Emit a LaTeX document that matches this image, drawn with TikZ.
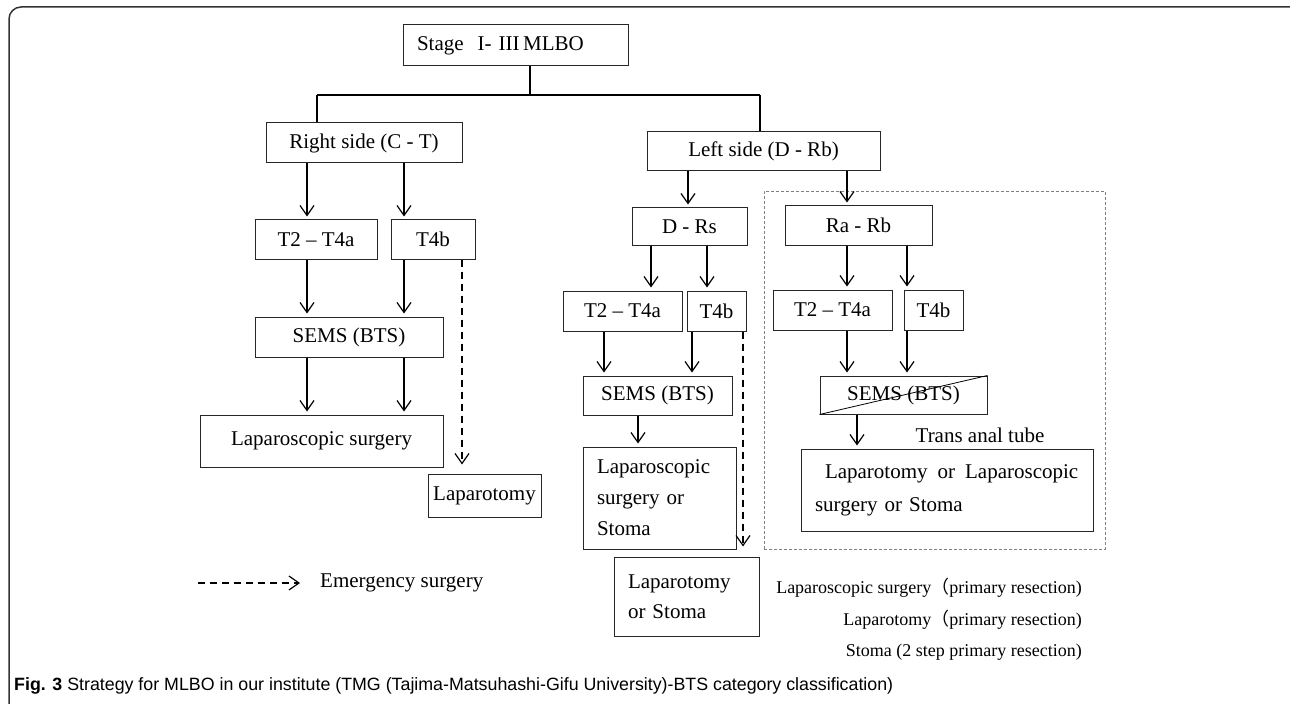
\documentclass[tikz,border=0pt]{standalone}
\usepackage{fontspec}
\setmainfont{Liberation Serif}
\newfontfamily\capfont{Liberation Sans}
\newfontfamily\cjk{Noto Sans CJK SC}
\usetikzlibrary{arrows.meta}

\tikzset{
  box/.style={draw=black!85, line width=1bp, inner sep=0pt,
    font=\fontsize{21bp}{31bp}\selectfont},
  flow/.style={-{Straight Barb[length=10bp,width=14bp]}, line width=1.2bp, shorten >=3bp},
  emerg/.style={flow, dash pattern=on 7bp off 5bp},
  trunk/.style={line width=2bp},
  note/.style={inner sep=0pt, font=\fontsize{18bp}{22bp}\selectfont},
}

\begin{document}
\begin{tikzpicture}[x=1bp, y=-1bp]
  \useasboundingbox (0,0) rectangle (1290,704);
  % frame
  \draw[line width=1.5bp, black!80, rounded corners=12bp] (9,715) -- (9,7) -- (1300,7);

  % columns of the arrows
  \coordinate (split) at (530,95);
  \coordinate (jr) at (317,95);
  \coordinate (jl) at (760,95);
  \coordinate (rc1) at (307,0);
  \coordinate (rc2) at (404,0);
  \coordinate (rd) at (462,0);
  \coordinate (lc1) at (688,0);
  \coordinate (lc2) at (847,0);
  \coordinate (mc1) at (651,0);
  \coordinate (mc2) at (707,0);
  \coordinate (mc3) at (604,0);
  \coordinate (mc4) at (692,0);
  \coordinate (mc5) at (638,0);
  \coordinate (md) at (743,0);
  \coordinate (qc1) at (847,0);
  \coordinate (qc2) at (907,0);
  \coordinate (qc3) at (857,0);

  % rectum zone
  \node [draw=gray, line width=0.8bp, dash pattern=on 3bp off 2bp, minimum width=341bp, minimum height=358bp] (zone) at (934.5,370) {};

  \node [box, minimum width=225bp, minimum height=41bp, text width=197bp, align=left] (stage) at (515.5,45.5) {Stage\ \ I- III\,MLBO};
  \node [box, minimum width=196bp, minimum height=40bp] (rside) at (364,143) {Right side (C - T)};
  \node [box, minimum width=233bp, minimum height=39bp] (lside) at (763.5,151.5) {Left side (D - Rb)};

  % right side
  \node [box, minimum width=122bp, minimum height=39bp] (r_t2) at (316,239.5) {T2 -- T4a};
  \node [box, minimum width=84bp, minimum height=39bp] (r_t4b) at (433,239.5) {T4b};
  \node [box, minimum width=188bp, minimum height=40bp] (r_sems) at (349,337) {SEMS (BTS)};
  \node [box, minimum width=243bp, minimum height=52bp] (r_lap) at (321.5,441) {Laparoscopic surgery};
  \node [box, minimum width=113bp, minimum height=43bp] (r_lapt) at (484.5,495.5) {Laparotomy};

  % left side, D - Rs
  \node [box, minimum width=115bp, minimum height=37bp] (m_drs) at (689.5,226.5) {D - Rs};
  \node [box, minimum width=119bp, minimum height=40bp] (m_t2) at (622.5,311) {T2 -- T4a};
  \node [box, minimum width=59bp, minimum height=40bp] (m_t4b) at (716.5,311) {T4b};
  \node [box, minimum width=149bp, minimum height=39bp] (m_sems) at (657.5,395.5) {SEMS (BTS)};
  \node [box, minimum width=153bp, minimum height=102bp, text width=125bp, align=left] (m_lap) at (659.5,498) {Laparoscopic\\surgery or\\Stoma};
  \node [box, minimum width=145bp, minimum height=79bp, text width=117bp, align=left, font=\fontsize{21bp}{30bp}\selectfont] (m_lapt) at (686.5,596.5) {Laparotomy\\or Stoma};

  % left side, Ra - Rb
  \node [box, minimum width=147bp, minimum height=39bp] (q_rarb) at (858.5,225.5) {Ra - Rb};
  \node [box, minimum width=119bp, minimum height=40bp] (q_t2) at (832.5,310) {T2 -- T4a};
  \node [box, minimum width=59bp, minimum height=40bp] (q_t4b) at (933.5,310) {T4b};
  \node [box, minimum width=167bp, minimum height=38bp] (q_sems) at (903.5,395) {SEMS (BTS)};
  \node [box, minimum width=292bp, minimum height=82bp, text width=264bp, align=left, font=\fontsize{21bp}{33bp}\selectfont] (q_lap) at (947,490) {\mbox{\hspace*{10bp}Laparotomy\hspace{10bp}or\hspace{10bp}Laparoscopic}\\surgery or Stoma};
  \node [inner sep=0pt, font=\fontsize{21bp}{25bp}\selectfont] (tube) at (980,435) {Trans anal tube};
  \draw[line width=0.8bp] (q_sems.south west) -- (q_sems.north east);

  % trunk
  \draw[trunk] (stage.south -| split) -- (split) (jr) -- (jl)
    (jr) -- (jr |- rside.north) (jl) -- (jl |- lside.north);

  % arrows
  \draw[flow] (rc1 |- rside.south) -- (rc1 |- r_t2.north);
  \draw[flow] (rc2 |- rside.south) -- (rc2 |- r_t4b.north);
  \draw[flow] (rc1 |- r_t2.south) -- (rc1 |- r_sems.north);
  \draw[flow] (rc2 |- r_t4b.south) -- (rc2 |- r_sems.north);
  \draw[flow] (rc1 |- r_sems.south) -- (rc1 |- r_lap.north);
  \draw[flow] (rc2 |- r_sems.south) -- (rc2 |- r_lap.north);
  \draw[emerg, shorten >=9bp] (rd |- r_t4b.south) -- (rd |- r_lapt.north);

  \draw[flow] (lc1 |- lside.south) -- (lc1 |- m_drs.north);
  \draw[flow] (lc2 |- lside.south) -- (lc2 |- q_rarb.north);
  \draw[flow] (mc1 |- m_drs.south) -- (mc1 |- m_t2.north);
  \draw[flow] (mc2 |- m_drs.south) -- (mc2 |- m_t4b.north);
  \draw[flow] (mc3 |- m_t2.south) -- (mc3 |- m_sems.north);
  \draw[flow] (mc4 |- m_t4b.south) -- (mc4 |- m_sems.north);
  \draw[flow] (mc5 |- m_sems.south) -- (mc5 |- m_lap.north);
  \draw[emerg, shorten >=10bp] (md |- m_t4b.south) -- (md |- m_lapt.north);

  \draw[flow] (qc1 |- q_rarb.south) -- (qc1 |- q_t2.north);
  \draw[flow] (qc2 |- q_rarb.south) -- (qc2 |- q_t4b.north);
  \draw[flow] (qc1 |- q_t2.south) -- (qc1 |- q_sems.north);
  \draw[flow] (qc2 |- q_t4b.south) -- (qc2 |- q_sems.north);
  \draw[flow] (qc3 |- q_sems.south) -- (qc3 |- q_lap.north);

  % legend
  \coordinate (lg) at (198,583);
  \node [inner sep=0pt, anchor=west, font=\fontsize{21bp}{25bp}\selectfont] (lgtext) at (320,583) {Emergency surgery};
  \draw[emerg, shorten >=20bp] (lg) -- (lgtext.west);
  \node [note, anchor=east] (n1) at (1082,588) {Laparoscopic surgery{\cjk （}primary resection)};
  \node [note, anchor=east] (n2) at (1082,620) {Laparotomy{\cjk （}primary resection)};
  \node [note, anchor=east] (n3) at (1082,652) {Stoma (2 step primary resection)};

  % caption
  \node [inner sep=0pt, anchor=west, font=\capfont\fontsize{17.8bp}{20bp}\selectfont] (cap) at (14,686)
    {\textbf{Fig. 3} Strategy for MLBO in our institute (TMG (Tajima-Matsuhashi-Gifu University)-BTS category classification)};
\end{tikzpicture}
\end{document}
